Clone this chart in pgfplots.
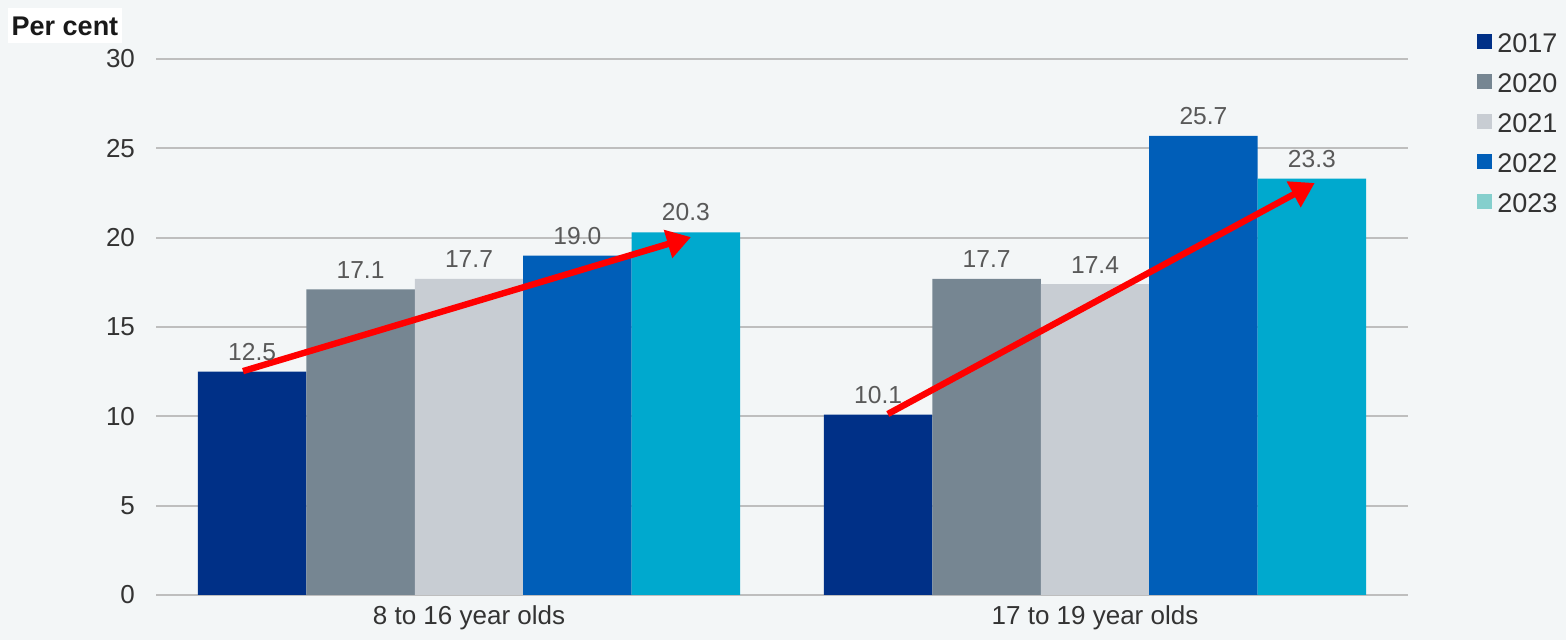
\documentclass[border=0pt]{standalone}
\usepackage{pgfplots}
\pgfplotsset{compat=1.18}
\usepackage{fontspec}
\setmainfont{Liberation Sans}
\usetikzlibrary{arrows.meta}
\definecolor{bgc}{HTML}{F3F6F7}
\definecolor{cA}{HTML}{003087}
\definecolor{cB}{HTML}{768692}
\definecolor{cC}{HTML}{C8CDD3}
\definecolor{cD}{HTML}{005EB8}
\definecolor{cE}{HTML}{00A9CE}
\definecolor{cEleg}{HTML}{85CFCD}
\definecolor{gridc}{HTML}{BEBEBE}
\definecolor{labc}{HTML}{595959}
\definecolor{tickc}{HTML}{333333}
\begin{document}
\begin{tikzpicture}
\fill[bgc] (-78pt,-22.5pt) rectangle (705pt,297.5pt);
\path[use as bounding box] (-78pt,-22.5pt) rectangle (705pt,297.5pt);
\node[fill=white, inner sep=0pt, minimum width=57pt, minimum height=17.5pt, font=\fontsize{13.5}{15}\selectfont\bfseries, text=black!90] at (-45.5pt,284.5pt) {Per cent};
\begin{axis}[
  at={(0,0)}, anchor=south west,
  scale only axis, width=626pt, height=268pt,
  xmin=-0.5, xmax=1.5, ymin=0, ymax=30,
  xtick={0,1}, xticklabels={8 to 16 year olds, 17 to 19 year olds},
  ytick={0,5,...,30},
  ymajorgrids, grid style={gridc, line width=1pt},
  axis line style={draw=none}, major tick length=0pt, tick style={draw=none},
  tick label style={font=\fontsize{13}{15}\selectfont, text=tickc},
  /pgf/number format/assume math mode=true,
  yticklabel style={xshift=-7pt},
  xticklabel style={yshift=-2pt},
  ybar, bar width=0.1732,
  nodes near coords,
  nodes near coords style={font=\fontsize{12.3}{14}\selectfont, text=labc, yshift=2pt,
    /pgf/number format/.cd, fixed, fixed zerofill, precision=1, assume math mode=true},
  legend style={at={(1,1)}, anchor=north west, xshift=34.5pt, yshift=13pt,
    draw=none, fill=none, inner sep=0pt, row sep=10.5pt, column sep=2.5pt,
    font=\fontsize{13.5}{15}\selectfont, text=tickc,
    cells={anchor=base west},
    nodes={inner sep=0pt, text height=9.5pt, text depth=0pt}},
]
\addplot[fill=cA, draw=none, bar shift=-0.3464,
  legend image code/.code={\fill[cA] (0pt,1.5pt) rectangle (7.5pt,9pt);}]
  coordinates {(0,12.5) (1,10.1)};
\addplot[fill=cB, draw=none, bar shift=-0.1732,
  legend image code/.code={\fill[cB] (0pt,1.5pt) rectangle (7.5pt,9pt);}]
  coordinates {(0,17.1) (1,17.7)};
\addplot[fill=cC, draw=none, bar shift=0,
  legend image code/.code={\fill[cC] (0pt,1.5pt) rectangle (7.5pt,9pt);}]
  coordinates {(0,17.7) (1,17.4)};
\addplot[fill=cD, draw=none, bar shift=0.1732,
  legend image code/.code={\fill[cD] (0pt,1.5pt) rectangle (7.5pt,9pt);}]
  coordinates {(0,19.0) (1,25.7)};
\addplot[fill=cE, draw=none, bar shift=0.3464,
  legend image code/.code={\fill[cEleg] (0pt,1.5pt) rectangle (7.5pt,9pt);}]
  coordinates {(0,20.3) (1,23.3)};
\legend{2017,2020,2021,2022,2023}
\draw[red, line width=3.2pt, -{Triangle[length=12pt,width=14pt]}] (axis cs:-0.361,12.53) -- (axis cs:0.3546,20.03);
\draw[red, line width=3.2pt, -{Triangle[length=12pt,width=14pt]}] (axis cs:0.669,10.13) -- (axis cs:1.351,23.06);
\end{axis}
\end{tikzpicture}
\end{document}
